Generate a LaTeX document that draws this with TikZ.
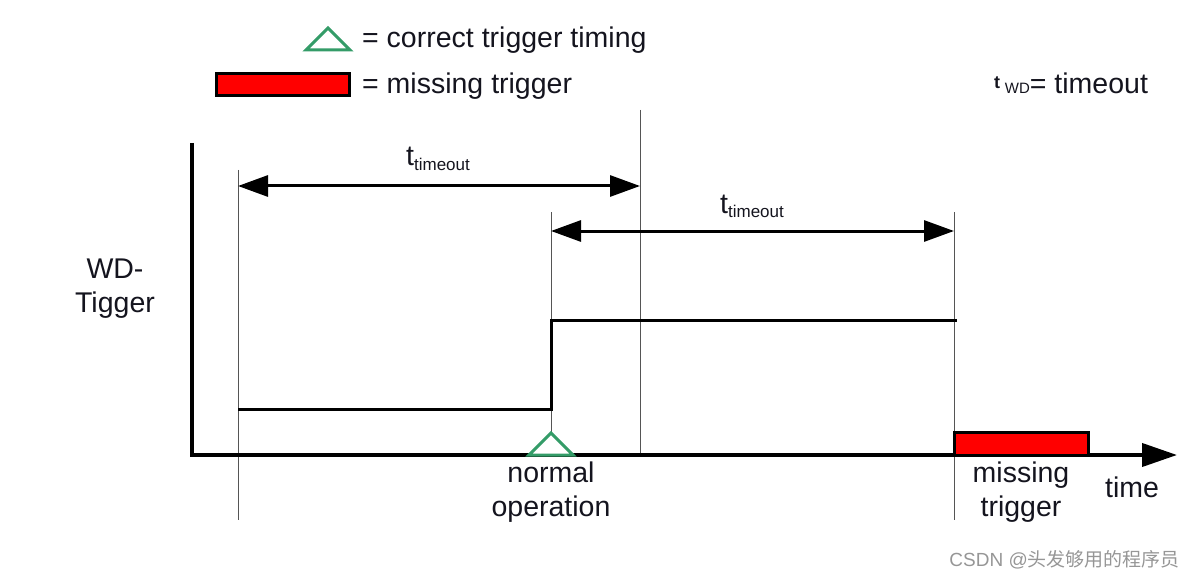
\documentclass[tikz,border=0pt]{standalone}
\usepackage{fontspec}
\setmainfont{Liberation Sans}
\newfontfamily\cjkfont{Noto Sans CJK SC}
\usetikzlibrary{arrows.meta}
\definecolor{trig}{RGB}{52,156,104}
\definecolor{guide}{RGB}{85,85,85}
\definecolor{wm}{RGB}{150,150,150}
\definecolor{txt}{RGB}{20,20,30}
\tikzset{
  big/.style={font=\fontsize{28.5}{34}\selectfont, inner sep=0pt, text=txt},
  guideline/.style={draw=guide, line width=1pt},
  signal/.style={line width=3pt, line join=miter},
  axisline/.style={line width=4pt, line join=miter, -{Triangle[length=35pt,width=23pt]}},
  dimarrow/.style={line width=3pt, {Triangle[length=30pt,width=21pt]}-{Triangle[length=30pt,width=21pt]}},
  trigtri/.style={draw=trig, fill=white, line width=3pt, line join=miter},
  missbox/.style={draw=black, fill=red, line width=3pt}
}
\newcommand{\ttimeout}{t{\fontsize{17}{17}\selectfont\raisebox{-4.5pt}{timeout}}}
\begin{document}
\begin{tikzpicture}[x=1pt,y=-1pt]
\useasboundingbox (0,0) rectangle (1196,580);
% coordinates
\coordinate (ytop) at (192,143);
\coordinate (O) at (192,455);
\coordinate (xend) at (1177,455);
\coordinate (g1t) at (238,170); \coordinate (g1b) at (238,520);
\coordinate (g2t) at (551,212); \coordinate (g2b) at (551,455);
\coordinate (g3t) at (640,110); \coordinate (g3b) at (640,455);
\coordinate (g4t) at (954,212); \coordinate (g4b) at (954,520);
\coordinate (s0) at (238,409); \coordinate (s1) at (551,409);
\coordinate (s2) at (551,320); \coordinate (s3) at (957,320);
\coordinate (a1l) at (238,186); \coordinate (a1r) at (640,186);
\coordinate (a2l) at (551,231); \coordinate (a2r) at (954,231);
% guide lines
\draw[guideline] (g1t) -- (g1b);
\draw[guideline] (g2t) -- (g2b);
\draw[guideline] (g3t) -- (g3b);
\draw[guideline] (g4t) -- (g4b);
% axes
\draw[axisline] (ytop) -- (O) -- (xend);
% signal
\draw[signal] (s0) -- (s1) -- (s2) -- (s3);
% dimension arrows
\draw[dimarrow] (a1l) -- (a1r);
\draw[dimarrow] (a2l) -- (a2r);
\node[big, anchor=base west] (lab1) at (406,166) {\ttimeout};
\node[big, anchor=base west] (lab2) at (720,213) {\ttimeout};
% trigger marks
\draw[trigtri] (529,455) -- (551,433) -- (573,455) -- cycle;
\draw[missbox] (954,432) rectangle (1088,455);
% labels
\node[big, align=center, anchor=center] (wd) at (115,289) {WD-\\Tigger};
\node[big, align=center, anchor=center] (norm) at (551,492) {normal\\operation};
\node[big, align=center, anchor=center] (miss) at (1021,492) {missing\\trigger};
\node[big, anchor=base] (time) at (1132,497) {time};
% legend
\draw[trigtri] (306,50) -- (328,28) -- (350,50) -- cycle;
\draw[missbox] (216,74) rectangle (349,96);
\node[big, anchor=base west] (leg1) at (362,48) {= correct trigger timing};
\node[big, anchor=base west] (leg2) at (362,94) {= missing trigger};
\node[big, anchor=base west] (twd) at (994,94) {\raisebox{5pt}{\fontsize{18}{18}\selectfont\bfseries t}\,{\fontsize{15}{15}\selectfont WD}= timeout};
% watermark
\node[font=\fontsize{19}{19}\selectfont, text=wm, inner sep=0pt, anchor=base east] (wmark) at (1180,566) {CSDN @{\cjkfont 头发够用的程序员}};
\end{tikzpicture}
\end{document}
